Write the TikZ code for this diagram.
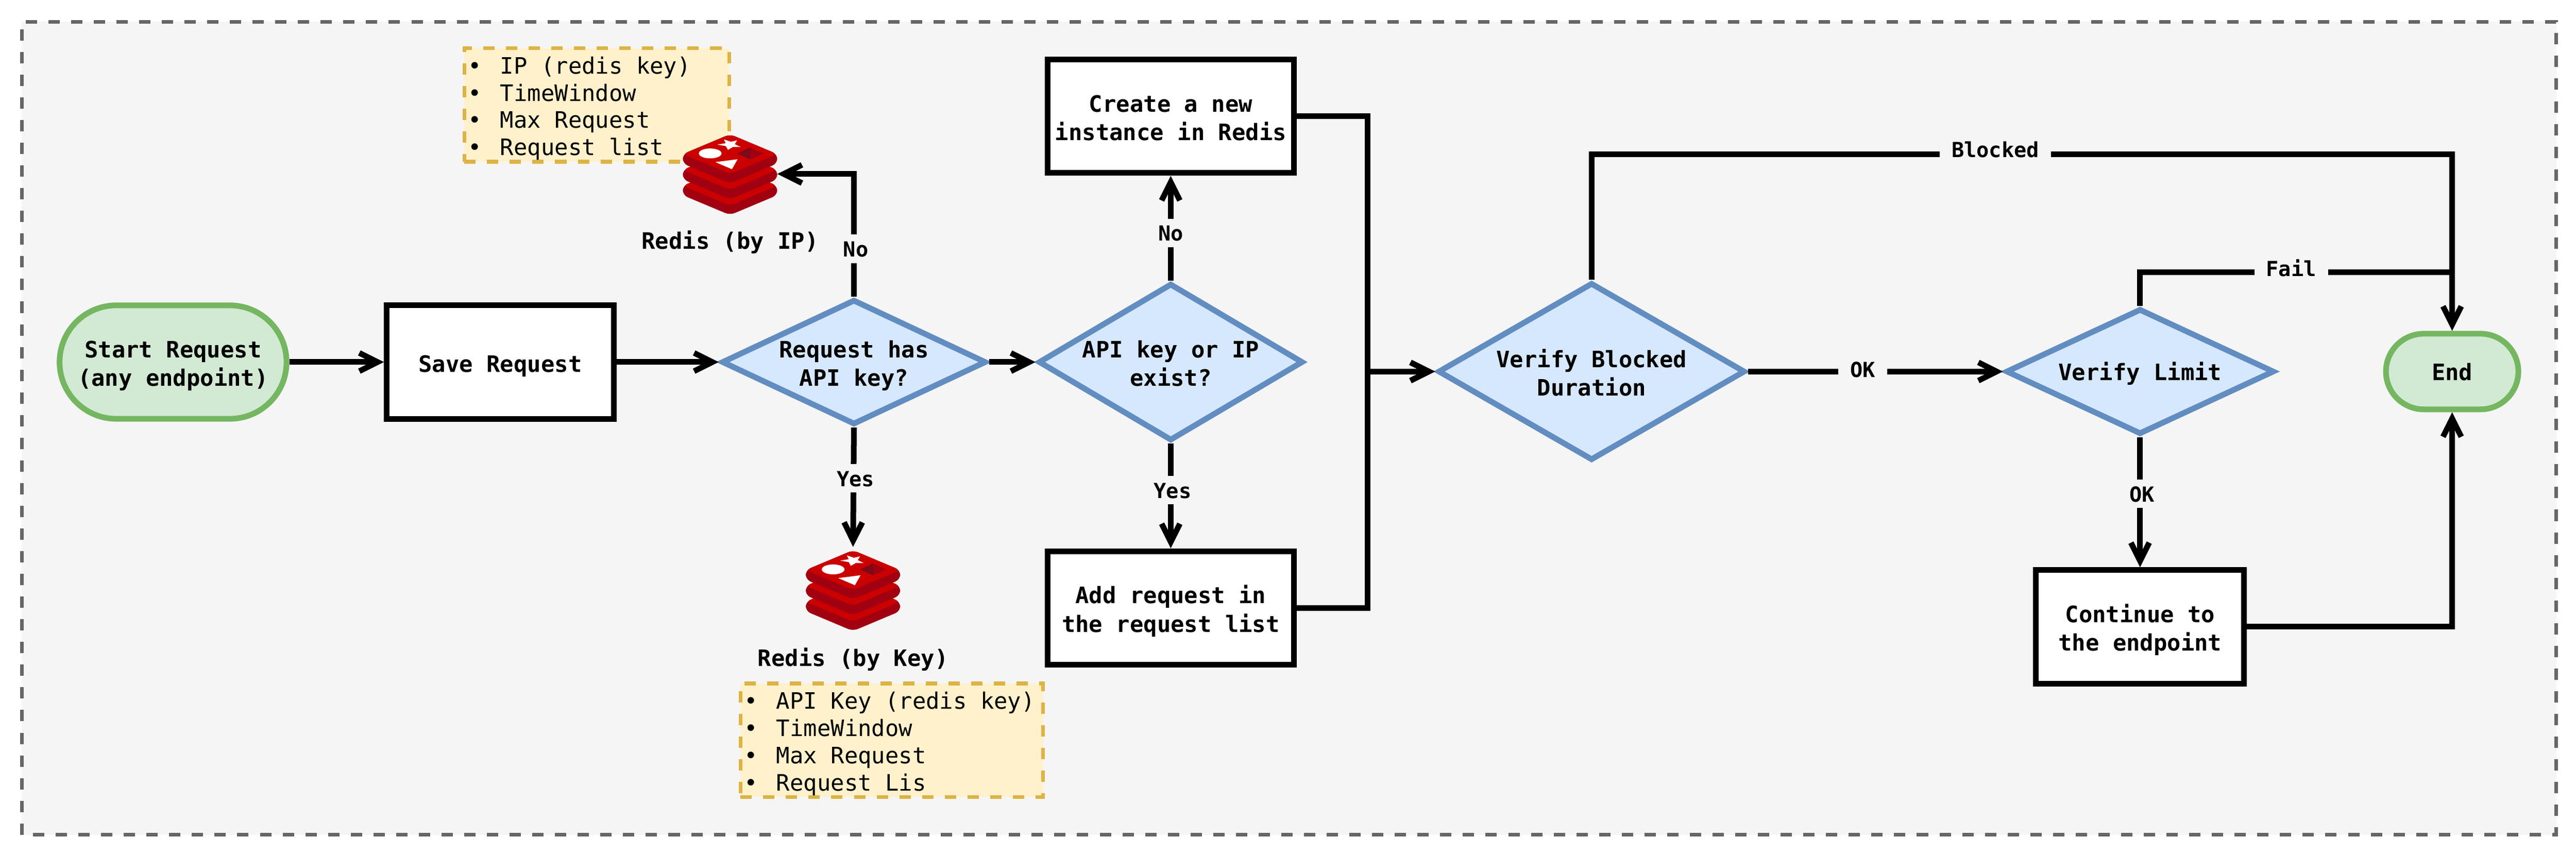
\documentclass[tikz,border=0pt]{standalone}
\usepackage{fontspec}
\setmainfont{DejaVu Sans Mono}
\usepackage{xcolor}
\usetikzlibrary{shapes,arrows.meta,positioning}

\definecolor{panelfill}{HTML}{F5F5F5}
\definecolor{panelline}{HTML}{666666}
\definecolor{startfill}{HTML}{D2E9D4}
\definecolor{startline}{HTML}{75B661}
\definecolor{checkfill}{HTML}{D6E8FD}
\definecolor{checkline}{HTML}{628DC1}
\definecolor{notefill}{HTML}{FFF1CB}
\definecolor{noteline}{HTML}{DCB344}
\definecolor{redisface}{HTML}{CB0000}
\definecolor{redisside}{HTML}{A10011}
\definecolor{redisdark}{HTML}{7C0A18}

\newcommand{\boxfont}{\fontsize{13.6}{17.07}\selectfont\bfseries}
\newcommand{\notefont}{\fontsize{13.6}{16.39}\selectfont}
\newcommand{\lblfont}{\fontsize{12.5}{15}\selectfont\bfseries}
\newcommand{\noteitem}[1]{\spaceskip=.602em\relax\makebox[.68cm][l]{\textbullet}#1}

\begin{document}
\begin{tikzpicture}[
    node distance=2cm,
    panel/.style={draw=panelline, fill=panelfill, line width=.08cm, dash pattern=on .24cm off .24cm},
    oneline/.style={text height=.42cm, text depth=0cm},
    twoline/.style={text height=1.02cm, text depth=0cm},
    terminal/.style={rectangle, rounded corners=#1, draw=startline, fill=startfill, line width=.12cm, inner sep=0pt, align=center, font=\boxfont},
    process/.style={rectangle, draw=black, fill=white, line width=.12cm, minimum height=2.4cm, inner sep=0pt, align=center, font=\boxfont},
    decision/.style={diamond, draw=checkline, fill=checkfill, line width=.12cm, inner sep=0pt},
    dtext/.style={align=center, font=\boxfont, inner sep=0pt},
    note/.style={rectangle, draw=noteline, fill=notefill, line width=.08cm, dash pattern=on .24cm off .24cm, minimum height=2.4cm, inner xsep=.08cm, inner ysep=0pt, align=left, font=\notefont, text height=0cm, text depth=1.32cm},
    caption/.style={font=\boxfont, inner sep=0pt, text height=.34cm, text depth=0cm},
    icon/.style={rectangle, inner sep=0pt, outer sep=0pt, minimum width=2cm, minimum height=1.68cm},
    line/.style={line width=.12cm},
    flow/.style={line, -{Straight Barb[length=11pt, width=11pt, line width=3.4pt]}},
    lbl/.style={fill=panelfill, font=\lblfont, inner xsep=.25cm, inner ysep=.13cm, text height=.34cm, text depth=0cm},
    redislogo/.pic={
        \begin{scope}[x=.01cm, y=-.01cm]
            \foreach \dy in {67,33.5,0} {
                \fill[redisside, rounded corners=.11cm] (100,\dy) -- (200,{42+\dy}) -- (200,{62+\dy}) -- (100,{104+\dy}) -- (0,{62+\dy}) -- (0,{42+\dy}) -- cycle;
                \fill[redisface, rounded corners=.11cm] (100,\dy) -- (200,{42+\dy}) -- (100,{84+\dy}) -- (0,{42+\dy}) -- cycle;
            }
            \fill[white] (73,22) -- (91,19) -- (87,11) -- (102,16) -- (115,13) -- (110,21) -- (122.5,27) -- (106,27) -- (95.5,33) -- (91,25) -- cycle;
            \fill[white] (58,40.6) ellipse (24 and 10.5);
            \fill[white] (69,59) -- (116,53) -- (104,74) -- cycle;
            \fill[redisside] (143,28) -- (171,41) -- (143,53) -- cycle;
            \fill[redisdark] (143,28) -- (115,41) -- (143,53) -- cycle;
        \end{scope}
    }
]
    \useasboundingbox (0,0) rectangle (54.48,18.08);
    \draw[panel] (.46,.42) rectangle (54.06,17.62);

    % Main row
    \node[terminal=1.2cm, twoline, minimum width=4.8cm, minimum height=2.4cm] (start) at (3.66,10.42) {Start Request\\(any endpoint)};
    \node[process, oneline, minimum width=4.8cm, node distance=6.92cm, right of=start] (save) {Save Request};
    \node[decision, minimum width=5.6cm, minimum height=2.65cm, node distance=7.48cm, right of=save, label={[dtext, twoline]center:{Request has\\API key?}}] (haskey) {};
    \node[decision, minimum width=5.6cm, minimum height=3.33cm, node distance=6.7cm, right of=haskey, label={[dtext, twoline]center:{API key or IP\\exist?}}] (exist) {};
    \node[process, twoline, minimum width=5.2cm, node distance=5.2cm, above of=exist] (create) {Create a new\\instance in Redis};
    \node[process, twoline, minimum width=5.2cm, node distance=5.2cm, below of=exist] (append) {Add request in\\the request list};

    % Limit checks
    \node[decision, minimum width=6.5cm, minimum height=3.76cm, label={[dtext, twoline]center:{Verify Blocked\\Duration}}] (blocked) at (33.66,10.22) {};
    \node[decision, minimum width=5.68cm, minimum height=2.66cm, node distance=11.6cm, right of=blocked, label={[dtext, oneline, text height=.38cm]center:{Verify Limit}}] (limit) {};
    \node[terminal=.8cm, oneline, text height=.38cm, minimum width=2.8cm, minimum height=1.6cm, node distance=6.6cm, right of=limit] (finish) {End};
    \node[process, twoline, minimum width=4.4cm, node distance=5.4cm, below of=limit] (continue) {Continue to\\the endpoint};

    % Redis stores and their fields
    \node[note, text width=5.44cm] (ipnote) at (12.62,15.86) {\noteitem{IP (redis key)}\\\noteitem{TimeWindow}\\\noteitem{Max Request}\\\noteitem{Request list}};
    \node[note, text width=6.24cm] (keynote) at (18.86,2.42) {\noteitem{API Key (redis key)}\\\noteitem{TimeWindow}\\\noteitem{Max Request}\\\noteitem{Request Lis}};
    \node[icon] (redisip) at (15.44,14.40) {};
    \pic at (redisip.north west) {redislogo};
    \node[icon] (rediskey) at (18.04,5.60) {};
    \pic at (rediskey.north west) {redislogo};
    \node[caption, node distance=1.42cm, below of=redisip] (ipcaption) {Redis (by IP)};
    \node[caption, node distance=1.44cm, below of=rediskey] (keycaption) {Redis (by Key)};

    % Turning points
    \coordinate (merge) at (28.92,10.22);
    \coordinate[node distance=4.6cm, above of=finish] (blockturn);
    \coordinate[node distance=2.1cm, above of=finish] (failjoin);

    % Arrows
    \draw[flow] (start) -- (save);
    \draw[flow] (save) -- (haskey);
    \draw[flow] (haskey) -- (exist);
    \draw[flow] (haskey.north) |- node[lbl, pos=.195, xshift=.04cm] (lblno1) {No} (redisip.east);
    \draw[flow, shorten >=.07cm] (haskey.south) -- node[lbl, pos=.415, xshift=.04cm] (lblyes1) {Yes} (rediskey.north);
    \draw[flow] (exist.north) -- node[lbl, pos=.455] (lblno2) {No} (create.south);
    \draw[flow] (exist.south) -- node[lbl, pos=.445, xshift=.04cm] (lblyes2) {Yes} (append.north);
    \draw[flow] (create.east) -| (merge) -- (blocked.west);
    \draw[flow] (append.east) -| (merge) -- (blocked.west);
    \draw[flow] (blocked.north) |- node[lbl, pos=.7346, yshift=.1cm] (lblblocked) {Blocked} (blockturn) -- (finish.north);
    \draw[flow] (blocked.east) -- node[lbl, pos=.45, yshift=.05cm] (lblok1) {OK} (limit.west);
    \draw[line] (limit.north) |- node[lbl, pos=.742, yshift=.08cm] (lblfail) {Fail} (failjoin);
    \draw[flow] (limit.south) -- node[lbl, pos=.434, xshift=.04cm] (lblok2) {OK} (continue.north);
    \draw[flow] (continue.east) -| (finish.south);
\end{tikzpicture}
\end{document}
